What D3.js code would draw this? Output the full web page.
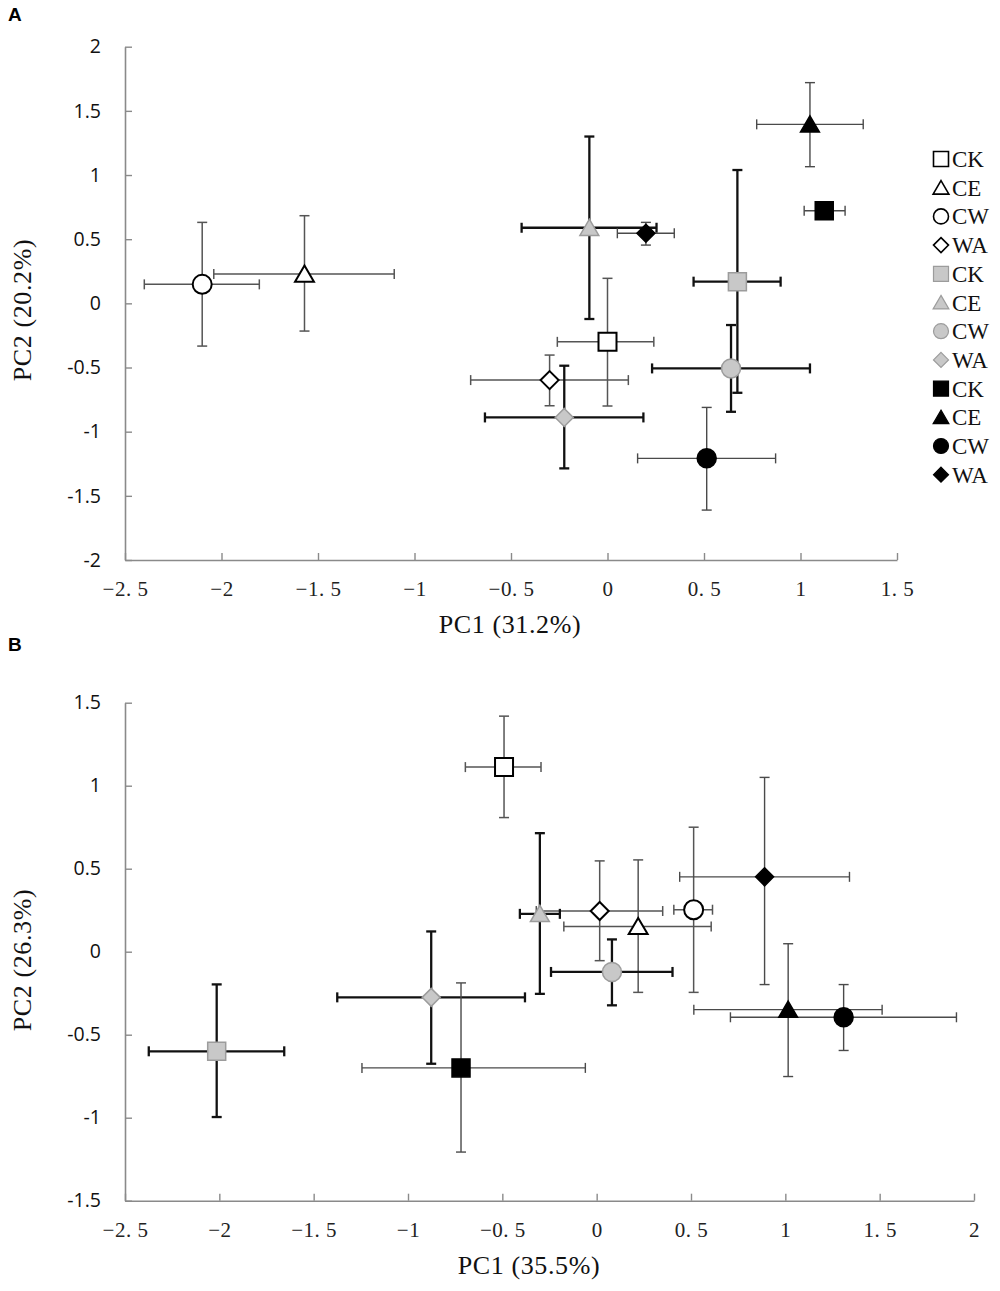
<!DOCTYPE html>
<html>
<head>
<meta charset="utf-8">
<title>PCA scores</title>
<script src="https://d3js.org/d3.v7.min.js"></script>
<style>
  body { margin: 0; background: #fff; }
  .tick text.xl { font-family: "Liberation Serif", serif; font-size: 21px; fill: #222; letter-spacing: 0.5px; }
  .tick text.yl { font-family: "Open Sans", sans-serif; font-size: 19.5px; fill: #111; }
  .ttl { font-family: "Liberation Serif", serif; font-size: 26px; fill: #111; letter-spacing: 0.6px; }
  .leg { font-family: "Liberation Serif", serif; font-size: 23px; fill: #111; }
  .plab { font-family: "Liberation Sans", Arial, sans-serif; font-size: 19px; font-weight: bold; }
</style>
</head>
<body>
<div id="chart"></div>
<script>
// order of series: white CK CE CW WA, gray CK CE CW WA, black CK CE CW WA
const groups = ["CK", "CE", "CW", "WA", "CK", "CE", "CW", "WA", "CK", "CE", "CW", "WA"];
const tiers = ["white", "white", "white", "white", "gray", "gray", "gray", "gray", "black", "black", "black", "black"];

// panel A
const aX    = [0.00, -1.57, -2.10, -0.30, 0.673, -0.094, 0.640, -0.224, 1.123, 1.049, 0.514, 0.199];
const aY    = [-0.30, 0.228, 0.148, -0.598, 0.169, 0.589, -0.507, -0.889, 0.722, 1.395, -1.208, 0.546];
const aXlo  = [-0.26, -2.04, -2.40, -0.709, 0.446, -0.445, 0.231, -0.635, 1.019, 0.773, 0.156, 0.051];
const aXhi  = [0.24, -1.105, -1.804, 0.108, 0.897, 0.254, 1.049, 0.186, 1.231, 1.325, 0.871, 0.346];
const aYlo  = [-0.80, -0.216, -0.333, -0.798, -0.697, -0.122, -0.845, -1.286, 0.70, 1.065, -1.611, 0.454];
const aYhi  = [0.195, 0.683, 0.631, -0.403, 1.039, 1.30, -0.169, -0.486, 0.745, 1.72, -0.811, 0.631];

// panel B
const bX    = [-0.491, 0.220, 0.514, 0.016, -2.014, -0.301, 0.081, -0.877, -0.719, 1.015, 1.309, 0.890];
const bY    = [1.112, 0.152, 0.253, 0.245, -0.60, 0.228, -0.122, -0.275, -0.70, -0.349, -0.395, 0.451];
const bXlo  = [-0.696, -0.174, 0.409, -0.32, -2.374, -0.407, -0.242, -1.375, -1.244, 0.515, 0.709, 0.44];
const bXhi  = [-0.295, 0.607, 0.614, 0.35, -1.656, -0.195, 0.402, -0.380, -0.06, 1.513, 1.907, 1.34];
const bYlo  = [0.808, -0.245, -0.245, -0.054, -0.996, -0.254, -0.323, -0.675, -1.207, -0.752, -0.595, -0.198];
const bYhi  = [1.419, 0.553, 0.750, 0.547, -0.197, 0.714, 0.074, 0.122, -0.188, 0.048, -0.198, 1.05];

// ticks
const aXTicks = [-2.5, -2, -1.5, -1, -0.5, 0, 0.5, 1, 1.5];
const aXTickLabels = ["\u22122. 5", "\u22122", "\u22121. 5", "\u22121", "\u22120. 5", "0", "0. 5", "1", "1. 5"];
const aYTicks = [-2, -1.5, -1, -0.5, 0, 0.5, 1, 1.5, 2];
const aYTickLabels = ["-2", "-1.5", "-1", "-0.5", "0", "0.5", "1", "1.5", "2"];
const bXTicks = [-2.5, -2, -1.5, -1, -0.5, 0, 0.5, 1, 1.5, 2];
const bXTickLabels = ["\u22122. 5", "\u22122", "\u22121. 5", "\u22121", "\u22120. 5", "0", "0. 5", "1", "1. 5", "2"];
const bYTicks = [-1.5, -1, -0.5, 0, 0.5, 1, 1.5];
const bYTickLabels = ["-1.5", "-1", "-0.5", "0", "0.5", "1", "1.5"];

const shapeOf = { CK: "square", CE: "triangle", CW: "circle", WA: "diamond" };
const fillOf = { white: "#fff", gray: "#c8c8c8", black: "#000" };
const strokeOf = { white: "#000", gray: "#9c9c9c", black: "#000" };
const barColor = { white: "#555", gray: "#111", black: "#4a4a4a" };
const barWidth = { white: 1.5, gray: 2.3, black: 1.4 };

function markerPath(shape, s) {
  const h = s / 2;
  if (shape === "square") return `M${-h},${-h}H${h}V${h}H${-h}Z`;
  if (shape === "triangle") return `M0,${-h * 0.95}L${h * 1.05},${h * 0.85}H${-h * 1.05}Z`;
  if (shape === "diamond") return `M0,${-h}L${h},0L0,${h}L${-h},0Z`;
  return d3.arc()({ innerRadius: 0, outerRadius: h, startAngle: 0, endAngle: 2 * Math.PI });
}

const svg = d3.select("#chart").append("svg")
  .attr("width", 1000).attr("height", 1291);

function panel(cfg) {
  const x = d3.scaleLinear().domain(cfg.xDom).range(cfg.xRange);
  const y = d3.scaleLinear().domain(cfg.yDom).range(cfg.yRange);
  const g = svg.append("g");

  const xAxis = d3.axisBottom(x).tickValues(cfg.xTicks)
    .tickFormat((d, i) => cfg.xLabels[i]).tickSizeInner(-7).tickSizeOuter(0).tickPadding(21);
  const yAxis = d3.axisLeft(y).tickValues(cfg.yTicks)
    .tickFormat((d, i) => cfg.yLabels[i]).tickSizeInner(-7).tickSizeOuter(0).tickPadding(24);

  const gx = g.append("g").attr("transform", `translate(0,${cfg.yRange[0]})`).call(xAxis);
  gx.selectAll("text").attr("class", "xl");
  const gy = g.append("g").attr("transform", `translate(${cfg.xRange[0]},0)`).call(yAxis);
  gy.selectAll("text").attr("class", "yl");
  [gx, gy].forEach(a => {
    a.select(".domain").attr("stroke", "#8a8a8a").attr("stroke-width", 1.6);
    a.selectAll(".tick line").attr("stroke", "#8a8a8a").attr("stroke-width", 1.4);
  });

  const idx = d3.range(cfg.xs.length);
  const cap = 5;
  const bars = g.append("g").selectAll("g").data(idx).join("g")
    .attr("stroke", i => barColor[tiers[i]])
    .attr("stroke-width", i => barWidth[tiers[i]]);
  bars.append("line")
    .attr("x1", i => x(cfg.xlo[i])).attr("x2", i => x(cfg.xhi[i]))
    .attr("y1", i => y(cfg.ys[i])).attr("y2", i => y(cfg.ys[i]));
  bars.append("line")
    .attr("x1", i => x(cfg.xs[i])).attr("x2", i => x(cfg.xs[i]))
    .attr("y1", i => y(cfg.ylo[i])).attr("y2", i => y(cfg.yhi[i]));
  [cfg.xlo, cfg.xhi].forEach(arr => {
    bars.append("line")
      .attr("x1", i => x(arr[i])).attr("x2", i => x(arr[i]))
      .attr("y1", i => y(cfg.ys[i]) - cap).attr("y2", i => y(cfg.ys[i]) + cap);
  });
  [cfg.ylo, cfg.yhi].forEach(arr => {
    bars.append("line")
      .attr("x1", i => x(cfg.xs[i]) - cap).attr("x2", i => x(cfg.xs[i]) + cap)
      .attr("y1", i => y(arr[i])).attr("y2", i => y(arr[i]));
  });

  g.append("g").selectAll("path").data(idx).join("path")
    .attr("transform", i => `translate(${x(cfg.xs[i])},${y(cfg.ys[i])})`)
    .attr("d", i => markerPath(shapeOf[groups[i]], groups[i] === "CW" ? 19 : 18))
    .attr("fill", i => fillOf[tiers[i]])
    .attr("stroke", i => strokeOf[tiers[i]])
    .attr("stroke-width", i => tiers[i] === "white" ? 2 : 1.5);

  g.append("text").attr("class", "ttl").attr("text-anchor", "middle")
    .attr("x", cfg.xTitleX).attr("y", cfg.yRange[0] + 73).text(cfg.xTitle);
  g.append("text").attr("class", "ttl").attr("text-anchor", "middle")
    .attr("transform", `translate(31,${cfg.yTitleY}) rotate(-90)`).text(cfg.yTitle);
  g.append("text").attr("class", "plab").attr("x", 8).attr("y", cfg.labY).text(cfg.label);
  return { x, y };
}

panel({
  xDom: [-2.5, 1.5], xRange: [125, 897], yDom: [-2, 2], yRange: [560, 46.7],
  xTicks: aXTicks, xLabels: aXTickLabels, yTicks: aYTicks, yLabels: aYTickLabels,
  xs: aX, ys: aY, xlo: aXlo, xhi: aXhi, ylo: aYlo, yhi: aYhi,
  xTitle: "PC1 (31.2%)", xTitleX: 510, yTitle: "PC2 (20.2%)", yTitleY: 310,
  label: "A", labY: 21
});

panel({
  xDom: [-2.5, 2], xRange: [125, 974], yDom: [-1.5, 1.5], yRange: [1200.7, 702.7],
  xTicks: bXTicks, xLabels: bXTickLabels, yTicks: bYTicks, yLabels: bYTickLabels,
  xs: bX, ys: bY, xlo: bXlo, xhi: bXhi, ylo: bYlo, yhi: bYhi,
  xTitle: "PC1 (35.5%)", xTitleX: 529, yTitle: "PC2 (26.3%)", yTitleY: 960,
  label: "B", labY: 651
});

// legend for panel A
const leg = svg.append("g").attr("transform", "translate(941,159)")
  .selectAll("g").data(d3.range(groups.length)).join("g")
  .attr("transform", i => `translate(0,${i * 28.7})`);
leg.append("path")
  .attr("d", i => markerPath(shapeOf[groups[i]], 15))
  .attr("fill", i => fillOf[tiers[i]])
  .attr("stroke", i => strokeOf[tiers[i]])
  .attr("stroke-width", i => tiers[i] === "white" ? 1.6 : 1.2);
leg.append("text").attr("class", "leg").attr("x", 11).attr("y", 8).text(i => groups[i]);
</script>
</body>
</html>
